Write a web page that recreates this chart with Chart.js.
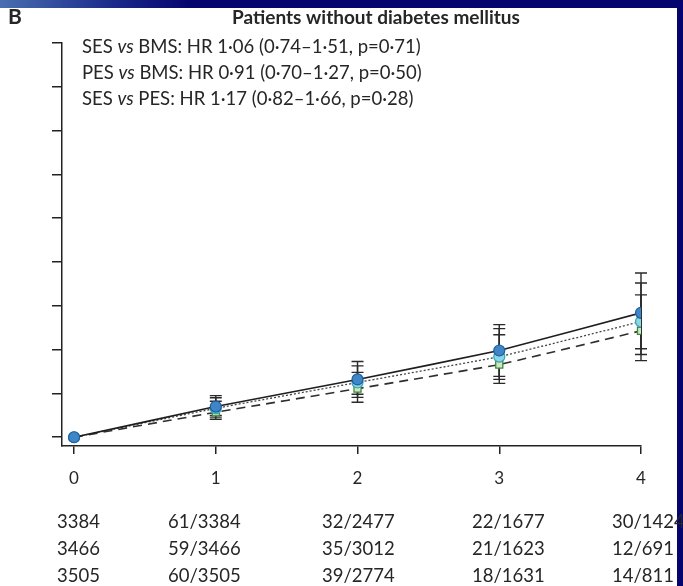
<!DOCTYPE html>
<html>
<head>
<meta charset="utf-8">
<script src="https://cdn.jsdelivr.net/npm/chart.js@4.4.0/dist/chart.umd.min.js"></script>
<style>
  html, body { margin: 0; padding: 0; }
  body {
    width: 683px; height: 586px; overflow: hidden; position: relative;
    background: linear-gradient(100deg, #4a6fb0 0%, #1c2c8c 14%, #06056f 24%, #06056f 100%);
  }
  #panel { position: absolute; left: 0; top: 8px; width: 677px; height: 578px; background: #fff; }
  #wrap { position: absolute; left: 0; top: 0; width: 683px; height: 586px; }
</style>
</head>
<body>
<div id="panel"></div>
<div id="wrap"><canvas id="chart"></canvas></div>
<script>
// years of follow-up
const years = [0, 1, 2, 3, 4];
const yTicks = [0, 1, 2, 3, 4, 5, 6, 7, 8, 9];

// cumulative rate and 95% CI per stent group
const sesRate = [0, 0.70, 1.32, 1.98, 2.84];
const sesLow = [0, 0.50, 0.98, 1.39, 2.02];
const sesHigh = [0, 0.95, 1.73, 2.57, 3.75];

const bmsRate = [0, 0.66, 1.25, 1.84, 2.64];
const bmsLow = [0, 0.46, 0.91, 1.32, 1.89];
const bmsHigh = [0, 0.90, 1.63, 2.48, 3.52];

const pesRate = [0, 0.57, 1.11, 1.66, 2.43];
const pesLow = [0, 0.41, 0.80, 1.23, 1.75];
const pesHigh = [0, 0.82, 1.48, 2.34, 3.25];

// hazard ratio annotations
const hrLines = [
  ["SES", "BMS", ": HR 1·06 (0·74–1·51, p=0·71)"],
  ["PES", "BMS", ": HR 0·91 (0·70–1·27, p=0·50)"],
  ["SES", "PES", ": HR 1·17 (0·82–1·66, p=0·28)"]
];

// numbers at risk / events
const riskRow1 = ["3384", "61/3384", "32/2477", "22/1677", "30/1424"];
const riskRow2 = ["3466", "59/3466", "35/3012", "21/1623", "12/691"];
const riskRow3 = ["3505", "60/3505", "39/2774", "18/1631", "14/811"];

const textColor = "#262626";
const FONT = "Lato, 'Open Sans', sans-serif";

const errorGroups = [
  { low: sesLow, high: sesHigh },
  { low: bmsLow, high: bmsHigh },
  { low: pesLow, high: pesHigh }
];

const errorBars = {
  id: "errorBars",
  beforeDatasetsDraw(chart) {
    const { ctx, scales: { x, y } } = chart;
    ctx.save();
    ctx.strokeStyle = "#2a2a2a";
    ctx.lineWidth = 1.4;
    errorGroups.forEach(g => {
      g.low.forEach((lo, i) => {
        if (g.high[i] === lo) return;
        const px = x.getPixelForValue(years[i]);
        const y1 = y.getPixelForValue(lo);
        const y2 = y.getPixelForValue(g.high[i]);
        ctx.beginPath();
        ctx.moveTo(px, y1); ctx.lineTo(px, y2);
        ctx.moveTo(px - 6, y1); ctx.lineTo(px + 6, y1);
        ctx.moveTo(px - 6, y2); ctx.lineTo(px + 6, y2);
        ctx.stroke();
      });
    });
    ctx.restore();
  }
};

const texts = {
  id: "texts",
  afterDraw(chart) {
    const ctx = chart.ctx;
    ctx.save();
    ctx.fillStyle = textColor;
    ctx.textBaseline = "middle";

    ctx.font = "bold 21px " + FONT;
    ctx.textAlign = "left";
    ctx.fillText("B", 8, 17);

    ctx.font = "bold 19px " + FONT;
    ctx.textAlign = "center";
    ctx.fillText("Patients without diabetes mellitus", 376, 18);

    ctx.textAlign = "left";
    hrLines.forEach((ln, i) => {
      const yy = 47 + i * 26;
      let xx = 82;
      ctx.font = "18.5px " + FONT;
      ctx.fillText(ln[0] + " ", xx, yy);
      xx += ctx.measureText(ln[0] + " ").width;
      ctx.font = "italic 18.5px " + FONT;
      ctx.fillText("vs", xx, yy);
      xx += ctx.measureText("vs").width;
      ctx.font = "18.5px " + FONT;
      ctx.fillText(" " + ln[1] + ln[2], xx, yy);
    });

    const cols = [57, 168, 322, 472, 612];
    ctx.font = "18.5px " + FONT;
    [riskRow1, riskRow2, riskRow3].forEach((row, r) => {
      row.forEach((t, c) => ctx.fillText(t, cols[c], 522 + r * 27));
    });
    ctx.restore();
  }
};

new Chart(document.getElementById("chart"), {
  type: "line",
  data: {
    labels: years,
    datasets: [
      {
        label: "SES",
        data: sesRate,
        borderColor: "#1e1e1e",
        borderWidth: 1.6,
        pointStyle: "circle",
        pointRadius: 5.5,
        pointBackgroundColor: "#3f86c8",
        pointBorderColor: "#1f5c9c",
        pointBorderWidth: 1.2
      },
      {
        label: "BMS",
        data: bmsRate,
        borderColor: "#444",
        borderWidth: 1.3,
        borderDash: [2, 2],
        pointStyle: "circle",
        pointRadius: 5.5,
        pointBackgroundColor: "#8ad8e6",
        pointBorderColor: "#3aa3b8",
        pointBorderWidth: 1.2
      },
      {
        label: "PES",
        data: pesRate,
        borderColor: "#2e2e2e",
        borderWidth: 1.6,
        borderDash: [9, 6],
        pointStyle: "rect",
        pointRadius: 5,
        pointBackgroundColor: "#cfe7c2",
        pointBorderColor: "#3d8a3d",
        pointBorderWidth: 1.3
      }
    ]
  },
  options: {
    responsive: true,
    maintainAspectRatio: false,
    animation: false,
    layout: { padding: { left: 52, top: 43, right: 42, bottom: 83.6 } },
    plugins: {
      legend: { display: false },
      tooltip: { enabled: false }
    },
    elements: { line: { tension: 0.1 } },
    scales: {
      x: {
        type: "linear",
        min: -0.085,
        max: 4,
        afterBuildTicks: scale => { scale.ticks = years.map(v => ({ value: v })); },
        border: { display: true, color: "#222", width: 1.5 },
        grid: { drawOnChartArea: false, color: "#222", lineWidth: 1.5, tickLength: 8 },
        ticks: { color: textColor, padding: 14, font: { family: FONT, size: 17 } }
      },
      y: {
        min: -0.2,
        max: 9,
        afterBuildTicks: scale => { scale.ticks = yTicks.map(v => ({ value: v })); },
        border: { display: true, color: "#222", width: 1.5 },
        grid: { drawOnChartArea: false, color: "#222", lineWidth: 1.5, tickLength: 10 },
        ticks: { display: false }
      }
    }
  },
  plugins: [errorBars, texts]
});
</script>
</body>
</html>
